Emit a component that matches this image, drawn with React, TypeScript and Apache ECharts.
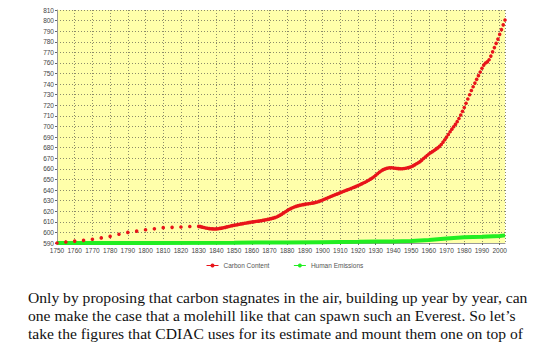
import React, { useEffect, useRef } from "react";
import * as echarts from "echarts";

const earlyYears = [1750, 1755, 1760, 1765, 1770, 1775, 1780, 1785, 1790, 1795, 1800, 1805, 1810, 1815, 1820, 1825, 1830];
const earlyCarbon = [590, 591, 591.8, 592.5, 593.5, 594.8, 596.3, 598.3, 600, 601.2, 602.5, 603.4, 604.5, 604.8, 605.1, 605.6, 605.7];

const annualStart = 1831;
const annualCarbon = [
  // 1831-1840
  605.5, 605.0, 604.6, 604.2, 603.9, 603.6, 603.4, 603.3, 603.2, 603.3,
  // 1841-1850
  603.5, 603.8, 604.1, 604.4, 604.8, 605.2, 605.6, 606.0, 606.4, 606.7,
  // 1851-1860
  607.0, 607.4, 607.7, 608.0, 608.3, 608.6, 608.9, 609.2, 609.5, 609.8,
  // 1861-1870
  610.0, 610.3, 610.5, 610.7, 611.0, 611.3, 611.6, 611.9, 612.3, 612.6,
  // 1871-1880
  613.0, 613.5, 614.0, 614.6, 615.4, 616.3, 617.3, 618.4, 619.5, 620.6,
  // 1881-1890
  621.6, 622.5, 623.3, 624.0, 624.6, 625.1, 625.5, 625.9, 626.2, 626.5,
  // 1891-1900
  626.8, 627.0, 627.3, 627.6, 627.9, 628.3, 628.7, 629.3, 629.9, 630.6,
  // 1901-1910
  631.3, 632.0, 632.7, 633.4, 634.1, 634.8, 635.5, 636.1, 636.8, 637.5,
  // 1911-1920
  638.2, 638.9, 639.6, 640.2, 640.8, 641.5, 642.2, 642.8, 643.5, 644.3,
  // 1921-1930
  645.0, 645.8, 646.6, 647.4, 648.3, 649.3, 650.3, 651.4, 652.6, 654.0,
  // 1931-1940
  655.4, 656.8, 658.0, 659.0, 659.8, 660.4, 660.8, 661.0, 661.0, 660.8,
  // 1941-1950
  660.6, 660.4, 660.2, 660.1, 660.1, 660.3, 660.6, 661.0, 661.4, 662.0,
  // 1951-1960
  662.8, 663.8, 664.8, 665.8, 666.8, 668.3, 669.8, 671.2, 672.6, 674.0,
  // 1961-1970
  675.2, 676.3, 677.4, 678.6, 679.8, 681.2, 683.0, 685.2, 687.5, 690.0,
  // 1971-1980
  692.5, 695.0, 697.5, 699.8, 702.0, 704.6, 707.6, 710.8, 714.3, 718.0,
  // 1981-1990
  722.0, 726.0, 730.0, 734.0, 737.5, 741.0, 744.5, 748.0, 751.5, 755.0,
  // 1991-2000
  758.0, 760.0, 761.0, 763.0, 766.5, 770.5, 774.5, 778.5, 782.5, 787.0,
  // 2001-2003
  791.5, 796.0, 800.5,
];

const emissionYears = [1750, 1800, 1850, 1880, 1900, 1920, 1930, 1940, 1950, 1960, 1970, 1980, 1990, 2000, 2003];
const emissionValues = [590.0, 590.1, 590.3, 590.5, 590.8, 591.1, 591.3, 591.5, 591.8, 592.8, 594.3, 595.4, 596.0, 596.7, 597.2];

const paragraphLines = [
  "Only by proposing that carbon stagnates in the air, building up year by year, can",
  "one make the case that a molehill like that can spawn such an Everest. So let\u2019s",
  "take the figures that CDIAC uses for its estimate and mount them one on top of",
];

const carbonData: [number, number][] = [
  ...earlyYears.map((y, i) => [y, earlyCarbon[i]] as [number, number]),
  ...annualCarbon.map((v, i) => [annualStart + i, v] as [number, number]),
];
const emissionData: [number, number][] = emissionYears.map((y, i) => [y, emissionValues[i]]);

export default function App() {
  const ref = useRef<HTMLDivElement>(null);
  useEffect(() => {
    if (!ref.current) return;
    const chart = echarts.init(ref.current, undefined, { renderer: "svg" });
    const labelFont = { fontFamily: "Liberation Sans", fontSize: 6.5, color: "#444" };
    chart.setOption({
      animation: false,
      backgroundColor: "#ffffff",
      grid: {
        left: 57,
        right: 48,
        top: 10,
        bottom: 114,
        show: true,
        backgroundColor: "#ffffaa",
        borderWidth: 0,
      },
      xAxis: {
        type: "value",
        min: 1750,
        max: 2003,
        interval: 10,
        axisLine: { show: true, lineStyle: { color: "#999", width: 1 } },
        axisTick: { show: true, length: 2, lineStyle: { color: "#666" } },
        axisLabel: { ...labelFont, margin: 4, showMaxLabel: false, formatter: (v: number) => String(v) },
        splitLine: { show: true, lineStyle: { color: "#8c8c6a", type: [1, 2], width: 1 } },
      },
      yAxis: {
        type: "value",
        min: 590,
        max: 810,
        interval: 10,
        axisLine: { show: true, lineStyle: { color: "#999", width: 1 } },
        axisTick: { show: true, length: 2, lineStyle: { color: "#666" } },
        axisLabel: { ...labelFont, margin: 3 },
        splitLine: { show: true, lineStyle: { color: "#8c8c6a", type: [1, 2], width: 1 } },
      },
      legend: {
        top: 257,
        left: 201,
        itemWidth: 12,
        itemHeight: 5,
        itemGap: 24,
        textStyle: { fontFamily: "Liberation Sans", fontSize: 6.5, color: "#555" },
        data: [
          { name: "Carbon Content", lineStyle: { color: "#e8141a", width: 1, opacity: 1 } },
          { name: "Human Emissions", lineStyle: { color: "#22ee22", width: 1, opacity: 1 } },
        ],
      },
      series: [
        {
          name: "Human Emissions",
          type: "line",
          data: emissionData,
          symbol: "circle",
          symbolSize: 3,
          showSymbol: false,
          lineStyle: { color: "#22ee22", width: 4 },
          itemStyle: { color: "#22ee22" },
          z: 2,
        },
        {
          name: "Carbon Content",
          type: "line",
          data: carbonData,
          symbol: "circle",
          symbolSize: 3.6,
          showSymbol: true,
          lineStyle: { color: "#e8141a", width: 0, opacity: 0 },
          itemStyle: { color: "#e8141a", borderWidth: 0 },
          z: 3,
        },
      ],
      graphic: paragraphLines.map((t, i) => ({
        type: "text",
        left: 28,
        top: 289 + i * 18,
        style: {
          text: t,
          fontFamily: "Liberation Serif",
          fontSize: 15.6,
          fill: "#111",
        },
      })),
    });
    return () => chart.dispose();
  }, []);
  return (
    <div
      ref={ref}
      style={{ position: "absolute", left: 0, top: 0, width: 553, height: 357, background: "#fff" }}
    />
  );
}
